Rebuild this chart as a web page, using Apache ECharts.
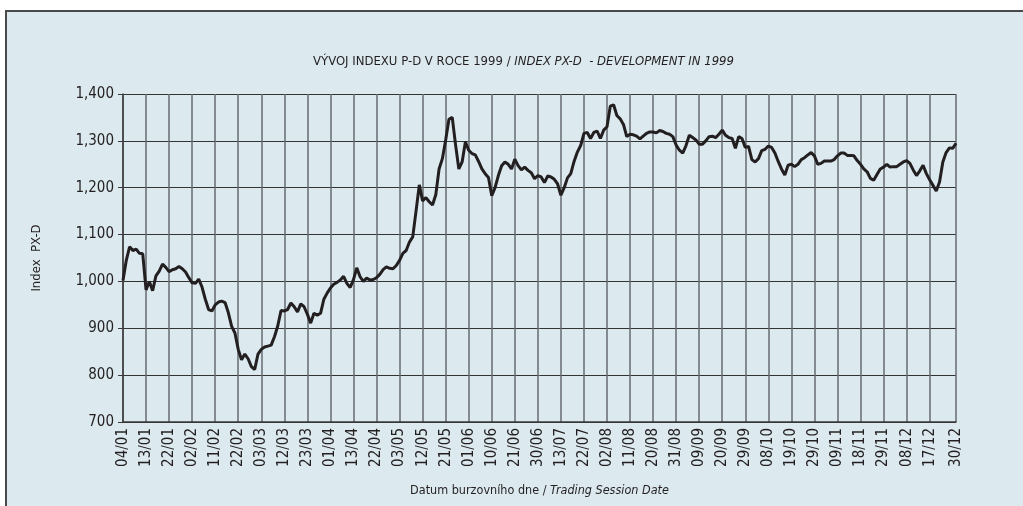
<!DOCTYPE html>
<html>
<head>
<meta charset="utf-8">
<script src="https://cdn.jsdelivr.net/npm/echarts@6/dist/echarts.min.js"></script>
<style>
  html, body { margin: 0; padding: 0; background: #fff; }
  #chart { width: 1023px; height: 506px; }
</style>
</head>
<body>
<div id="chart"></div>
<script>
// tick labels on the date axis and the session index where each one sits
const tickLabels = ["04/01", "13/01", "22/01", "02/02", "11/02", "22/02", "03/03", "12/03", "23/03",
  "01/04", "13/04", "22/04", "03/05", "12/05", "21/05", "01/06", "10/06", "21/06", "30/06",
  "13/07", "22/07", "02/08", "11/08", "20/08", "31/08", "09/09", "20/09", "29/09", "08/10",
  "19/10", "29/10", "09/11", "18/11", "29/11", "08/12", "17/12", "30/12"];
const tickAt = [0, 7, 14, 21, 28, 35, 42, 49, 56, 63, 70, 77, 84, 91, 98, 105, 112, 119, 126,
  133, 140, 147, 154, 161, 168, 175, 182, 189, 196, 203, 210, 217, 224, 231, 238, 245, 253];

// PX-D closing value per trading session
const pxd = [
  1002, 1045, 1074, 1066, 1069, 1060, 1059, 982, 1000, 980,
  1012, 1022, 1037, 1030, 1021, 1025, 1027, 1032, 1027, 1020,
  1008, 997, 996, 1005, 988, 962, 940, 937, 950, 956,
  958, 955, 933, 904, 890, 855, 833, 845, 835, 818,
  812, 845, 855, 860, 862, 864, 882, 905, 938, 937,
  940, 954, 946, 935, 952, 946, 930, 911, 932, 928,
  932, 962, 975, 986, 994, 998, 1003, 1011, 996, 987,
  1004, 1029, 1010, 1000, 1007, 1003, 1004, 1008, 1015, 1025,
  1031, 1028, 1027, 1034, 1045, 1060, 1066, 1084, 1095, 1150,
  1206, 1172, 1179, 1170, 1163, 1185, 1240, 1262, 1302, 1346,
  1350, 1292, 1240, 1255, 1298, 1280, 1273, 1270, 1256, 1240,
  1230, 1222, 1183, 1200, 1226, 1247, 1255, 1250, 1240, 1261,
  1247, 1238, 1244, 1237, 1232, 1219, 1226, 1223, 1211, 1225,
  1223, 1218, 1208, 1184, 1200, 1221, 1230, 1256, 1276, 1290,
  1316, 1318, 1305, 1318, 1321, 1305, 1323, 1330, 1374, 1377,
  1354, 1347, 1335, 1309, 1314, 1313, 1310, 1304, 1310, 1316,
  1319, 1319, 1317, 1322, 1320, 1316, 1314, 1309, 1291, 1280,
  1274, 1290, 1312, 1307, 1302, 1293, 1293, 1300, 1309, 1310,
  1307, 1314, 1323, 1312, 1307, 1305, 1284, 1309, 1305, 1286,
  1288, 1260, 1255, 1262, 1279, 1282, 1289, 1286, 1274, 1256,
  1240, 1227, 1248, 1250, 1245, 1250, 1260, 1264, 1270, 1275,
  1268, 1250, 1252, 1257, 1257, 1257, 1260, 1268, 1274, 1274,
  1269, 1269, 1268, 1258, 1250, 1240, 1234, 1220, 1216, 1228,
  1240, 1244, 1250, 1244, 1245, 1245, 1250, 1255, 1258, 1252,
  1238, 1226, 1236, 1248, 1230, 1217, 1205, 1193, 1212, 1255,
  1275, 1285, 1284, 1295
];

// one category per session, labelled only where a tick goes
const sessions = pxd.map(() => "");
tickAt.forEach((idx, i) => { sessions[idx] = tickLabels[i]; });
const isTick = (idx) => sessions[idx] !== "";

const font = '"Liberation Sans Narrow", "DejaVu Sans Condensed", sans-serif';

const chart = echarts.init(document.getElementById("chart"));
chart.setOption({
  animation: false,
  backgroundColor: "#ffffff",
  graphic: [
    {
      type: "rect",
      z: -10,
      shape: { x: 6, y: 11, width: 1100, height: 600 },
      style: { fill: "#dceaf0", stroke: "#4a4a4a", lineWidth: 2 },
    },
  ],
  title: {
    left: 308,
    top: 50,
    text: "{a|VÝVOJ INDEXU P-D V ROCE 1999 / }{b|INDEX PX-D  - DEVELOPMENT IN 1999}",
    textStyle: {
      fontWeight: "normal",
      rich: {
        a: { fontFamily: font, fontSize: 13, fontWeight: "normal", color: "#231f20" },
        b: { fontFamily: font, fontSize: 13, fontWeight: "normal", fontStyle: "italic", color: "#231f20" },
      },
    },
  },
  grid: { left: 123, right: 67, top: 94, bottom: 84 },
  xAxis: {
    type: "category",
    data: sessions,
    boundaryGap: false,
    name: "{a|Datum burzovního dne / }{b|Trading Session Date}",
    nameLocation: "middle",
    nameGap: 62,
    nameTextStyle: {
      rich: {
        a: { fontFamily: font, fontSize: 12.5, color: "#231f20" },
        b: { fontFamily: font, fontSize: 12.5, fontStyle: "italic", color: "#231f20" },
      },
    },
    axisLine: { lineStyle: { color: "#3a3a3a", width: 1.5 } },
    axisTick: { show: false },
    axisLabel: {
      interval: (idx) => isTick(idx),
      rotate: 90,
      margin: 6,
      fontFamily: font,
      fontSize: 15,
      color: "#231f20",
    },
    splitLine: {
      show: true,
      interval: (idx) => isTick(idx),
      lineStyle: { color: "#666b70", width: 1.5 },
    },
  },
  yAxis: {
    type: "value",
    min: 700,
    max: 1400,
    interval: 100,
    name: "Index  PX-D",
    nameLocation: "middle",
    nameGap: 80,
    nameTextStyle: { fontFamily: font, fontSize: 13, color: "#231f20" },
    axisLine: { show: true, lineStyle: { color: "#3a3a3a", width: 1.5 } },
    axisTick: { show: true, length: 5, lineStyle: { color: "#3a3a3a" } },
    axisLabel: {
      margin: 9,
      fontFamily: font,
      fontSize: 15,
      color: "#231f20",
      formatter: (v) => v.toLocaleString("en-US"),
    },
    splitLine: { lineStyle: { color: "#333333", width: 1 } },
  },
  series: [
    {
      type: "line",
      data: pxd,
      showSymbol: false,
      lineStyle: { color: "#231f20", width: 3 },
    },
  ],
});
</script>
</body>
</html>
